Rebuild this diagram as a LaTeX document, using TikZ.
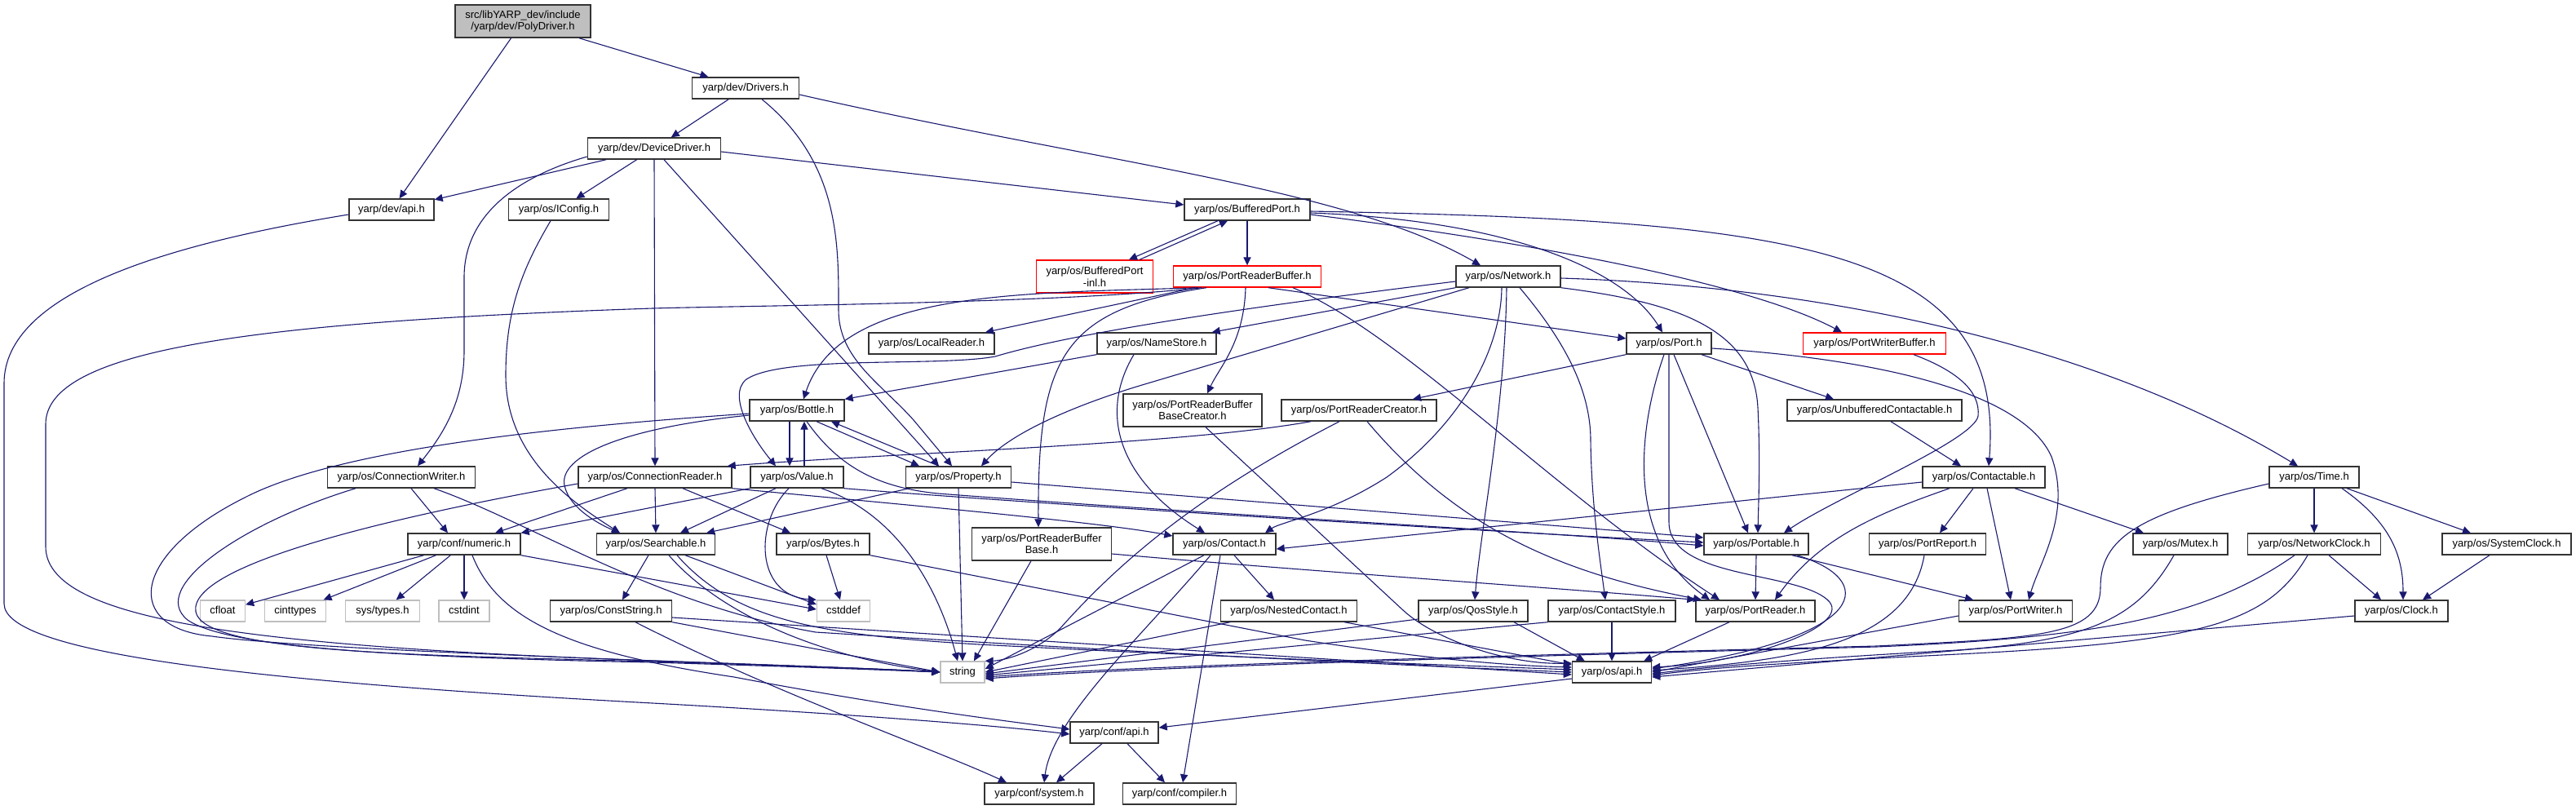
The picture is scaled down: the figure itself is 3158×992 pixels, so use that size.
\documentclass[tikz,border=0pt]{standalone}
\usepackage{fontspec}
\setmainfont{Liberation Sans}
\usetikzlibrary{arrows.meta}
\definecolor{edgeblue}{HTML}{191970}
\definecolor{boxgrey}{HTML}{BFBFBF}
\definecolor{frame}{HTML}{333333}
\newcommand\hdrfont{\fontsize{6.5}{7.3}\selectfont}
\begin{document}
\begin{tikzpicture}[x=0.5pt,y=-0.5pt,
  hdr/.style={draw=frame, line width=0.7pt, fill=white, font=\hdrfont, inner xsep=1pt, inner ysep=0pt, minimum height=13pt, text height=4.9pt, text depth=1.4pt},
  hdr2/.style={draw=frame, line width=0.7pt, fill=white, font=\hdrfont, inner xsep=1pt, inner ysep=0pt, minimum height=20pt, align=center},
  sys/.style={hdr, draw=boxgrey},
  miss/.style={hdr, draw=red},
  miss2/.style={hdr2, draw=red},
  edge/.style={draw=edgeblue, line width=0.55pt, -{Triangle[length=5pt,width=4.6pt]}},
]
\useasboundingbox (0,0) rectangle (3158,992);
% ---------- nodes ----------
\node[hdr2, fill=boxgrey, minimum width=83pt] (root) at (641,26) {src/libYARP\_dev/include\\/yarp/dev/PolyDriver.h};
\node[hdr, minimum width=65.5pt] (drivers) at (914,108) {yarp/dev/Drivers.h};
\node[hdr, minimum width=81.5pt] (devdrv) at (802,182) {yarp/dev/DeviceDriver.h};
\node[hdr, minimum width=52pt] (devapi) at (480,257) {yarp/dev/api.h};
\node[hdr, minimum width=61.5pt] (iconfig) at (685,257) {yarp/os/IConfig.h};
\node[hdr, minimum width=77pt] (bport) at (1529,257) {yarp/os/BufferedPort.h};
\node[miss2, minimum width=71.5pt] (bpinl) at (1342,339) {yarp/os/BufferedPort\\-inl.h};
\node[miss, minimum width=90.5pt] (prb) at (1529,339) {yarp/os/PortReaderBuffer.h};
\node[hdr, minimum width=64pt] (network) at (1849,339) {yarp/os/Network.h};
\node[hdr, minimum width=77pt] (localreader) at (1142,421) {yarp/os/LocalReader.h};
\node[hdr, minimum width=73pt] (namestore) at (1418,421) {yarp/os/NameStore.h};
\node[hdr, minimum width=52pt] (port) at (2046,421) {yarp/os/Port.h};
\node[miss, minimum width=87.5pt] (pwb) at (2298,421) {yarp/os/PortWriterBuffer.h};
\node[hdr, minimum width=58pt] (bottle) at (977,503) {yarp/os/Bottle.h};
\node[hdr2, minimum width=85pt] (prbbc) at (1462,503) {yarp/os/PortReaderBuffer\\BaseCreator.h};
\node[hdr, minimum width=95pt] (prc) at (1666,503) {yarp/os/PortReaderCreator.h};
\node[hdr, minimum width=107pt] (unbuf) at (2298,503) {yarp/os/UnbufferedContactable.h};
\node[hdr, minimum width=90.5pt] (connwriter) at (492,585) {yarp/os/ConnectionWriter.h};
\node[hdr, minimum width=94pt] (connreader) at (803,585) {yarp/os/ConnectionReader.h};
\node[hdr, minimum width=57pt] (value) at (977,585) {yarp/os/Value.h};
\node[hdr, minimum width=64.5pt] (property) at (1175,585) {yarp/os/Property.h};
\node[hdr, minimum width=75pt] (contactable) at (2432,585) {yarp/os/Contactable.h};
\node[hdr, minimum width=55pt] (time) at (2837,585) {yarp/os/Time.h};
\node[hdr, minimum width=69pt] (numeric) at (569,667) {yarp/conf/numeric.h};
\node[hdr, minimum width=72.5pt] (searchable) at (804,667) {yarp/os/Searchable.h};
\node[hdr, minimum width=57pt] (bytes) at (1009,667) {yarp/os/Bytes.h};
\node[hdr2, minimum width=85.5pt] (prbb) at (1277,667) {yarp/os/PortReaderBuffer\\Base.h};
\node[hdr, minimum width=63pt] (contact) at (1501,667) {yarp/os/Contact.h};
\node[hdr, minimum width=64pt] (portable) at (2153,667) {yarp/os/Portable.h};
\node[hdr, minimum width=71.5pt] (portreport) at (2363,667) {yarp/os/PortReport.h};
\node[hdr, minimum width=58pt] (mutex) at (2673,667) {yarp/os/Mutex.h};
\node[hdr, minimum width=81.5pt] (netclock) at (2837,667) {yarp/os/NetworkClock.h};
\node[hdr, minimum width=79pt] (sysclock) at (3073,667) {yarp/os/SystemClock.h};
\node[sys, minimum width=27.5pt] (cfloat) at (273,749) {cfloat};
\node[sys, minimum width=37.5pt] (cinttypes) at (362,749) {cinttypes};
\node[sys, minimum width=45.5pt] (systypes) at (469,749) {sys/types.h};
\node[sys, minimum width=31pt] (cstdint) at (569,749) {cstdint};
\node[hdr, minimum width=74.5pt] (conststring) at (749,749) {yarp/os/ConstString.h};
\node[sys, minimum width=32.5pt] (cstddef) at (1034,749) {cstddef};
\node[hdr, minimum width=83.5pt] (nested) at (1580,749) {yarp/os/NestedContact.h};
\node[hdr, minimum width=67pt] (qos) at (1806,749) {yarp/os/QosStyle.h};
\node[hdr, minimum width=78pt] (cstyle) at (1976,749) {yarp/os/ContactStyle.h};
\node[hdr, minimum width=73pt] (preader) at (2152,749) {yarp/os/PortReader.h};
\node[hdr, minimum width=69.5pt] (pwriter) at (2471,749) {yarp/os/PortWriter.h};
\node[hdr, minimum width=57pt] (clock) at (2944,749) {yarp/os/Clock.h};
\node[sys, minimum width=27pt] (string) at (1180,824) {string};
\node[hdr, minimum width=48.5pt] (osapi) at (1976,824) {yarp/os/api.h};
\node[hdr, minimum width=54pt] (confapi) at (1366,898) {yarp/conf/api.h};
\node[hdr, minimum width=67pt] (system) at (1274,973) {yarp/conf/system.h};
\node[hdr, minimum width=69.5pt] (compiler) at (1446,973) {yarp/conf/compiler.h};
% ---------- edges ----------
% root
\draw[edge] (root) -- (devapi);
\draw[edge] (root) -- (drivers);
% drivers
\draw[edge] (drivers) -- (devdrv);
\draw[edge] ([xshift=10pt]drivers.south) .. controls (1030,200) and (1028,300) .. (1028,380) .. controls (1028,440) and (1080,470) .. (1120,515) -- ([xshift=-4pt]property.north);
\draw[edge] ([yshift=-4pt]drivers.east) .. controls (1350,200) and (1650,230) .. ([xshift=-17pt]network.north);
% devdrv
\draw[edge] (devdrv) -- (devapi);
\draw[edge] (devdrv) -- (iconfig);
\draw[edge] ([yshift=-5pt]devdrv.west) .. controls (640,215) and (569,260) .. (569,340) -- (569,430) .. controls (569,490) and (545,530) .. ([xshift=10pt]connwriter.north);
\draw[edge] (devdrv.south) -- (connreader.north);
\draw[edge] ([xshift=6pt]devdrv.south) -- ([xshift=-12pt]property.north);
\draw[edge] ([yshift=-2pt]devdrv.east) -- ([yshift=3pt]bport.west);
% devapi
\draw[edge] ([yshift=-3pt]devapi.west) .. controls (200,300) and (5,360) .. (5,470) -- (5,740) .. controls (5,800) and (300,835) .. (800,862) .. controls (1000,873) and (1200,887) .. ([yshift=-1pt]confapi.west);
% iconfig
\draw[edge] ([xshift=-5pt]iconfig.south) .. controls (640,330) and (620,380) .. (620,460) .. controls (620,560) and (700,615) .. ([xshift=-22pt]searchable.north);
% bport
\draw[edge] ([xshift=-18pt]bport.south) -- ([xshift=21pt]bpinl.north);
\draw[edge] ([xshift=27.5pt]bpinl.north) -- ([xshift=-12pt]bport.south);
\draw[edge] (bport.south) -- (prb.north);
\draw[edge] ([yshift=-2pt]bport.east) .. controls (1850,270) and (1990,330) .. ([xshift=-4pt]port.north);
\draw[edge] ([yshift=-3pt]bport.east) .. controls (1900,300) and (2150,350) .. ([xshift=-20pt]pwb.north);
\draw[edge] ([yshift=-1pt]bport.east) .. controls (2200,270) and (2460,300) .. ([xshift=3pt]contactable.north);
% prb
\draw[edge] ([xshift=-28pt]prb.south) .. controls (1300,372) and (900,375) .. (800,378) .. controls (300,395) and (56,430) .. (56,520) -- (56,670) .. controls (56,760) and (300,792) .. (800,810) .. controls (1000,817) and (1100,821) .. (string.west);
\draw[edge] ([xshift=-30pt]prb.south) .. controls (1250,360) and (1030,355) .. ([xshift=4pt]bottle.north);
\draw[edge] ([xshift=-32pt]prb.south) -- ([xshift=33pt]localreader.north);
\draw[edge] ([xshift=-25pt]prb.south) .. controls (1300,380) and (1272,440) .. ([xshift=-2pt]prbb.north);
\draw[edge] ([xshift=-1pt]prb.south) .. controls (1525,420) and (1495,450) .. ([xshift=9pt]prbbc.north);
\draw[edge] ([xshift=13pt]prb.south) -- ([yshift=3pt]port.west);
\draw[edge] ([xshift=28pt]prb.south) .. controls (1720,410) and (1900,600) .. ([xshift=-22pt]preader.north);
% network
\draw[edge] ([yshift=-3pt]network.west) .. controls (1500,380) and (1310,410) .. (1220,437) .. controls (1150,450) and (960,435) .. (915,465) .. controls (890,485) and (925,540) .. ([xshift=-13pt]value.north);
\draw[edge] (network.south west) -- ([xshift=-3pt]namestore.north east);
\draw[edge] ([xshift=-24pt]network.south) -- (1400,472) .. controls (1320,496) and (1240,530) .. ([xshift=14pt]property.north);
\draw[edge] ([xshift=-4pt]network.south) .. controls (1840,430) and (1790,520) .. (1700,585) .. controls (1630,630) and (1570,640) .. ([xshift=25pt]contact.north);
\draw[edge] ([xshift=-1pt]network.south) .. controls (1845,500) and (1815,650) .. ([xshift=1pt]qos.north);
\draw[edge] ([xshift=7pt]network.south) .. controls (1920,420) and (1950,480) .. (1950,540) .. controls (1951,620) and (1962,690) .. ([xshift=-4pt]cstyle.north);
\draw[edge] (network.south east) .. controls (2050,370) and (2150,400) .. (2155,500) .. controls (2158,560) and (2156,610) .. ([xshift=1pt]portable.north);
\draw[edge] ([yshift=-1pt]network.east) .. controls (2200,350) and (2550,410) .. ([xshift=-10pt]time.north);
% namestore
\draw[edge] (namestore.south west) -- (bottle.north east);
\draw[edge] ([xshift=-14pt]namestore.south) .. controls (1345,510) and (1375,590) .. ([xshift=-12pt]contact.north);
% pwb
\draw[edge] ([xshift=24pt]pwb.south) .. controls (2400,455) and (2428,480) .. (2425,510) .. controls (2420,540) and (2250,610) .. ([xshift=17pt]portable.north);
% port
\draw[edge] (port.south west) -- ([xshift=33pt]prc.north);
\draw[edge] ([xshift=20pt]port.south) -- ([xshift=-25pt]unbuf.north);
\draw[edge] ([yshift=-3pt]port.east) .. controls (2300,440) and (2480,480) .. (2515,560) .. controls (2540,630) and (2500,690) .. ([xshift=8pt]pwriter.north);
\draw[edge] ([xshift=3pt]port.south) -- ([xshift=-5pt]portable.north);
\draw[edge] ([xshift=-3pt]port.south) .. controls (2010,520) and (1990,660) .. ([xshift=-28pt]preader.north);
\draw[edge] (port.south) -- (2046,640) .. controls (2046,710) and (2200,700) .. (2240,735) .. controls (2275,765) and (2150,812) .. ([yshift=3pt]osapi.east);
% bottle
\draw[edge] ([xshift=-4.5pt]bottle.south) -- ([xshift=-4.5pt]value.north);
\draw[edge] ([xshift=4.5pt]value.north) -- ([xshift=4.5pt]bottle.south);
\draw[edge] ([xshift=12pt]bottle.south) -- ([xshift=-24pt]property.north);
\draw[edge] ([xshift=-12pt]property.north) -- ([xshift=21pt]bottle.south);
\draw[edge] ([xshift=6pt]bottle.south) .. controls (1030,575) and (1080,598) .. (1150,605) .. controls (1500,632) and (1900,652) .. ([yshift=-1pt]portable.west);
\draw[edge] ([yshift=-2pt]bottle.west) .. controls (700,522) and (420,548) .. (300,610) .. controls (160,680) and (150,770) .. (260,780) .. controls (400,800) and (1000,815) .. (string.west);
\draw[edge] ([yshift=-3pt]bottle.west) .. controls (760,525) and (685,560) .. (692,595) .. controls (698,625) and (740,645) .. ([xshift=-22pt]searchable.north);
% value
\draw[edge] (value.south west) -- (numeric.north east);
\draw[edge] ([xshift=-13pt]value.south) -- ([xshift=15pt]searchable.north);
\draw[edge] ([xshift=-5pt]value.south) .. controls (925,640) and (925,730) .. (cstddef.north west);
\draw[edge] ([xshift=15pt]value.south) .. controls (1100,630) and (1150,720) .. ([xshift=-3pt]string.north);
\draw[edge] (value.south east) .. controls (1300,620) and (1800,650) .. ([yshift=1pt]portable.west);
% property
\draw[edge] ([xshift=-30pt]property.south) -- ([xshift=31pt]searchable.north);
\draw[edge] (property.south) -- (string.north);
\draw[edge] ([yshift=-3pt]property.east) -- ([yshift=4pt]portable.west);
% searchable
\draw[edge] ([xshift=-4.5pt]searchable.south) -- ([xshift=7pt]conststring.north);
\draw[edge] ([xshift=18pt]searchable.south) -- ([yshift=4pt]cstddef.west);
\draw[edge] ([xshift=8pt]searchable.south) .. controls (880,750) and (1000,805) .. (string.west);
\draw[edge] ([xshift=13pt]searchable.south) .. controls (900,760) and (1000,778) .. (1200,790) .. controls (1500,806) and (1800,816) .. ([yshift=1.5pt]osapi.west);
% connreader
\draw[edge] (connreader.south) -- (searchable.north);
\draw[edge] ([xshift=-17pt]connreader.south) -- ([xshift=19pt]numeric.north);
\draw[edge] ([xshift=17pt]connreader.south) -- ([xshift=-20pt]bytes.north);
\draw[edge] ([yshift=-4pt]connreader.west) .. controls (500,630) and (230,690) .. (240,750) .. controls (250,800) and (500,803) .. (800,811) .. controls (1000,817) and (1100,821) .. (string.west);
\draw[edge] (connreader.south east) .. controls (1100,618) and (1350,640) .. ([yshift=5pt]contact.west);
% connwriter
\draw[edge] ([xshift=6pt]connwriter.south) -- ([xshift=-10pt]numeric.north);
\draw[edge] ([xshift=-28pt]connwriter.south) .. controls (300,640) and (180,720) .. (230,760) .. controls (280,795) and (500,806) .. (800,812) .. controls (1000,818) and (1100,822) .. (string.west);
\draw[edge] ([xshift=20pt]connwriter.south) .. controls (650,640) and (800,740) .. (1000,775) .. controls (1400,800) and (1700,815) .. (osapi.west);
% numeric
\draw[edge] (numeric) -- (cfloat);
\draw[edge] (numeric) -- (cinttypes);
\draw[edge] (numeric) -- (systypes);
\draw[edge] (numeric) -- (cstdint);
\draw[edge] (numeric.south east) -- ([yshift=1pt]cstddef.west);
\draw[edge] ([xshift=5pt]numeric.south) .. controls (610,760) and (700,800) .. (900,830) .. controls (1100,868) and (1250,886) .. ([yshift=2pt]confapi.west);
% bytes
\draw[edge] ([xshift=2pt]bytes.south) -- ([xshift=-2pt]cstddef.north);
\draw[edge] (bytes.south east) -- (1600,785) .. controls (1750,808) and (1850,816) .. ([yshift=3pt]osapi.west);
% conststring
\draw[edge] (conststring.south east) -- (string.west);
\draw[edge] ([yshift=-4pt]conststring.east) -- ([yshift=-1.5pt]osapi.west);
\draw[edge] ([xshift=15pt]conststring.south) .. controls (950,850) and (1150,920) .. ([xshift=-20pt]system.north);
% prbb
\draw[edge] ([xshift=-6.5pt]prbb.south) -- ([xshift=7pt]string.north);
\draw[edge] ([yshift=-6pt]prbb.east) .. controls (1600,700) and (1900,720) .. (preader.north west);
% prbbc
\draw[edge] ([xshift=8pt]prbbc.south) -- (1720,748) .. controls (1760,785) and (1850,815) .. ([yshift=5.5pt]osapi.west);
% prc
\draw[edge] ([xshift=-29.5pt]prc.south) .. controls (1450,545) and (1100,555) .. ([xshift=-3pt]connreader.north east);
\draw[edge] ([xshift=-12pt]prc.south) .. controls (1480,600) and (1380,680) .. (1300,770) .. controls (1270,800) and (1230,810) .. (string.north east);
\draw[edge] ([xshift=5pt]prc.south) .. controls (1780,640) and (1900,700) .. ([xshift=-33pt]preader.north);
% contact
\draw[edge] ([xshift=-12.5pt]contact.south) -- ([yshift=2pt]string.east);
\draw[edge] ([xshift=-8.5pt]contact.south) .. controls (1400,780) and (1290,880) .. ([xshift=3pt]system.north);
\draw[edge] ([xshift=-2.5pt]contact.south) -- ([xshift=2pt]compiler.north);
\draw[edge] ([xshift=6pt]contact.south) -- ([xshift=-9pt]nested.north);
% nested
\draw[edge] ([xshift=-36pt]nested.south) -- (string.east);
\draw[edge] ([xshift=-8pt]nested.south east) -- ([yshift=4.5pt]osapi.west);
% qos
\draw[edge] ([yshift=-5pt]qos.west) -- ([yshift=-1pt]string.east);
\draw[edge] ([xshift=25pt]qos.south) -- ([xshift=8pt]osapi.north west);
% cstyle
\draw[edge] (cstyle.south) -- (osapi.north);
\draw[edge] (cstyle.south west) -- ([yshift=-2pt]string.east);
% preader
\draw[edge] ([xshift=-16pt]preader.south) -- ([xshift=-5pt]osapi.north east);
% portable
\draw[edge] (portable.south) -- (preader.north);
\draw[edge] ([xshift=22pt]portable.south) -- ([xshift=-26pt]pwriter.north);
\draw[edge] ([xshift=25pt]portable.south) .. controls (2300,710) and (2300,780) .. ([yshift=2pt]osapi.east);
% portreport
\draw[edge] ([xshift=-2pt]portreport.south) .. controls (2340,790) and (2200,810) .. ([yshift=1pt]osapi.east);
% pwriter
\draw[edge] ([yshift=-3pt]pwriter.west) -- (osapi.east);
% contactable
\draw[edge] ([yshift=-3pt]contactable.west) -- ([yshift=-3pt]contact.east);
\draw[edge] ([xshift=-21pt]contactable.south) .. controls (2300,630) and (2230,660) .. ([xshift=12pt]preader.north);
\draw[edge] ([xshift=-6.5pt]contactable.south) -- ([xshift=7.5pt]portreport.north);
\draw[edge] ([xshift=2pt]contactable.south) -- ([xshift=-3pt]pwriter.north);
\draw[edge] ([xshift=19pt]contactable.south) -- ([xshift=-22.5pt]mutex.north);
% unbuf
\draw[edge] ([xshift=10pt]unbuf.south) -- ([xshift=-14pt]contactable.north);
% time
\draw[edge] (time.south) -- (netclock.north);
\draw[edge] ([xshift=17pt]time.south) .. controls (2930,640) and (2946,680) .. ([xshift=1pt]clock.north);
\draw[edge] ([xshift=20pt]time.south) -- ([xshift=-22pt]sysclock.north);
\draw[edge] ([yshift=-4pt]time.west) .. controls (2620,630) and (2575,660) .. (2575,720) .. controls (2575,780) and (2500,782) .. (2300,792) .. controls (1800,805) and (1400,816) .. ([yshift=-3pt]string.east);
% mutex
\draw[edge] ([xshift=-4pt]mutex.south) .. controls (2620,760) and (2560,785) .. (2400,797) .. controls (2200,808) and (2100,817) .. ([yshift=-1pt]osapi.east);
% netclock
\draw[edge] ([xshift=9pt]netclock.south) -- ([xshift=-12.5pt]clock.north);
\draw[edge] ([xshift=-12pt]netclock.south) .. controls (2700,760) and (2560,782) .. (2300,793) .. controls (1800,806) and (1400,818) .. ([yshift=-4pt]string.east);
\draw[edge] ([xshift=-4pt]netclock.south) .. controls (2780,765) and (2700,787) .. (2400,802) .. controls (2200,812) and (2100,818) .. ([yshift=-2pt]osapi.east);
% sysclock
\draw[edge] ([xshift=-10.5pt]sysclock.south) -- ([xshift=13pt]clock.north);
% clock
\draw[edge] ([yshift=-3pt]clock.west) -- ([yshift=-3pt]osapi.east);
% osapi, confapi
\draw[edge] ([yshift=-4pt]osapi.west) -- ([yshift=3pt]confapi.east);
\draw[edge] ([xshift=-7.5pt]confapi.south) -- ([xshift=10.5pt]system.north);
\draw[edge] ([xshift=8pt]confapi.south) -- ([xshift=-9pt]compiler.north);
\end{tikzpicture}
\end{document}
